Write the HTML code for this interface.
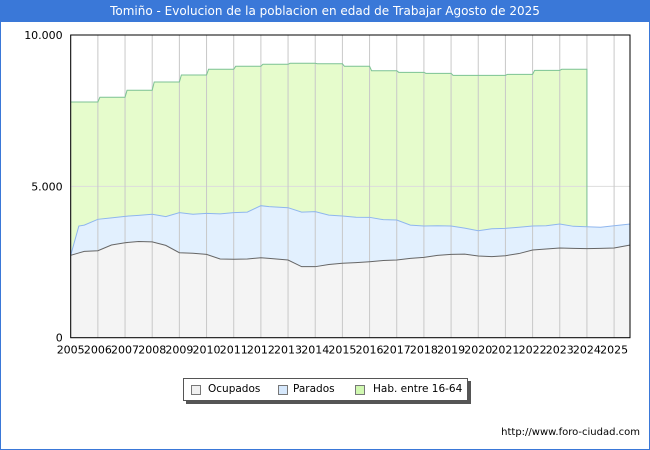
<!DOCTYPE html>
<html><head><meta charset="utf-8"><style>
body{margin:0;width:650px;height:450px;overflow:hidden;background:#fff;font-family:"DejaVu Sans","Liberation Sans",sans-serif}
#frame{position:absolute;left:0;top:0;width:648px;height:448px;border:1px solid #3a78d8}
#title{position:absolute;left:0;top:0;width:650px;height:22px;background:#3a78d8;color:#fff;font-size:12px;text-align:center;line-height:22px}
#legend{position:absolute;left:183px;top:378px;width:283px;height:21px;border:1px solid #555;background:#fff;box-shadow:3px 3px 0 #555;font-size:10.5px;line-height:21px;white-space:nowrap}
.it{position:absolute;top:0}.sw{position:absolute;top:6px;width:8px;height:8px;border:1px solid #777}
#url{position:absolute;right:10px;top:427px;font-size:10px}
</style></head><body>
<div id="frame"></div>
<div id="title">Tomiño - Evolucion de la poblacion en edad de Trabajar Agosto de 2025</div>
<svg id="c" width="650" height="450" style="position:absolute;left:0;top:0"></svg>
<div id="legend">
<span class="sw" style="left:7px;background:#f0f0f0"></span><span class="it" style="left:24px">Ocupados</span>
<span class="sw" style="left:94px;background:#d6e8fc"></span><span class="it" style="left:109px">Parados</span>
<span class="sw" style="left:171px;background:#d0f8b0"></span><span class="it" style="left:189px">Hab. entre 16-64</span>
</div>
<div id="url">http://www.foro-ciudad.com</div>
<script>
const times=[2005.0,2005.3,2005.5,2006,2006.5,2007,2007.5,2008,2008.5,2009,2009.5,2010,2010.5,2011,2011.5,2012,2012.3,2013,2013.5,2014,2014.5,2015,2015.5,2016,2016.5,2017,2017.5,2018,2018.5,2019,2019.5,2020,2020.5,2021,2021.5,2022,2022.5,2023,2023.5,2024,2024.5,2025,2025.6];
const ocupados=[2722,2800,2850,2874,3062,3138,3180,3167,3050,2808,2790,2753,2600,2590,2600,2643,2620,2566,2346,2346,2420,2458,2480,2511,2550,2566,2620,2654,2720,2753,2760,2700,2680,2709,2780,2897,2930,2963,2950,2941,2950,2963,3062];
const parados=[0,890,870,1037,898,872,860,910,950,1322,1290,1355,1490,1540,1550,1718,1710,1729,1804,1817,1630,1562,1500,1466,1350,1322,1100,1036,980,937,860,835,920,904,870,793,770,793,730,726,700,737,694];
const habYears=[2005,2006,2007,2008,2009,2010,2011,2012,2013,2014,2015,2016,2017,2018,2019,2020,2021,2022,2023];
const hab=[7787,7942,8173,8447,8679,8867,8966,9032,9065,9050,8966,8821,8767,8734,8668,8668,8701,8833,8867];
const yTicks=[0,5000,10000];const yLabels=["0","5.000","10.000"];
const xYears=[2005,2006,2007,2008,2009,2010,2011,2012,2013,2014,2015,2016,2017,2018,2019,2020,2021,2022,2023,2024,2025];
const L=70.7,R=630,T=35,B=337.7;
const X=t=>L+(t-2005)*27.17;
const Y=v=>B-(v/10000)*(B-T);
const svg=document.getElementById('c');const NS='http://www.w3.org/2000/svg';
function mk(tag,a){const e=document.createElementNS(NS,tag);for(const k in a)e.setAttribute(k,a[k]);svg.appendChild(e);return e;}
let hp=[];habYears.forEach((yr,i)=>{hp.push([X(yr)+(i?2:0),Y(hab[i])]);hp.push([X(yr+1),Y(hab[i])]);});
const lastX=X(2024),topAt=i=>ocupados[i]+parados[i];
let hi=times.findIndex(t=>t>=2024);
const habLine=hp.map(p=>p.join(',')).join(' ');
const habFill=mk('polygon',{points:X(2005)+','+Y(0)+' '+habLine+' '+lastX+','+Y(topAt(hi))+' '+lastX+','+Y(0),fill:'#e6fccc'});


const topPts=times.map((t,i)=>X(t)+','+Y(topAt(i))).join(' ');
const ocPts=times.map((t,i)=>X(t)+','+Y(ocupados[i])).join(' ');
const pf=mk('polygon',{points:X(2005)+','+Y(0)+' '+topPts+' '+X(times[times.length-1])+','+Y(0),fill:'#e2f0fe'});


const of=mk('polygon',{points:X(2005)+','+Y(0)+' '+ocPts+' '+X(times[times.length-1])+','+Y(0),fill:'#f4f4f4'});


yTicks.forEach((v,i)=>{const g=mk('line',{x1:L,x2:R,y1:Y(v),y2:Y(v),stroke:'#ddd'});


const t=mk('text',{x:L-8,y:Y(v)+4,'text-anchor':'end','font-size':11,fill:'#000'});t.textContent=yLabels[i];

});
xYears.forEach(yr=>{const g=mk('line',{x1:X(yr),x2:X(yr),y1:T,y2:B,stroke:'#c8c8c8'});


const t=mk('text',{x:X(yr),y:B+16,'text-anchor':'middle','font-size':11,fill:'#000'});t.textContent=yr;

});
const hl=mk('polyline',{points:habLine+' '+lastX+','+Y(topAt(hi)),fill:'none',stroke:'#7cc294'});


const pl=mk('polyline',{points:topPts,fill:'none',stroke:'#8fb6ee'});


const ol=mk('polyline',{points:ocPts,fill:'none',stroke:'#666'});


const ax=mk('rect',{x:L,y:T,width:R-L,height:B-T,fill:'none',stroke:'#000'});


</script>
</body></html>
